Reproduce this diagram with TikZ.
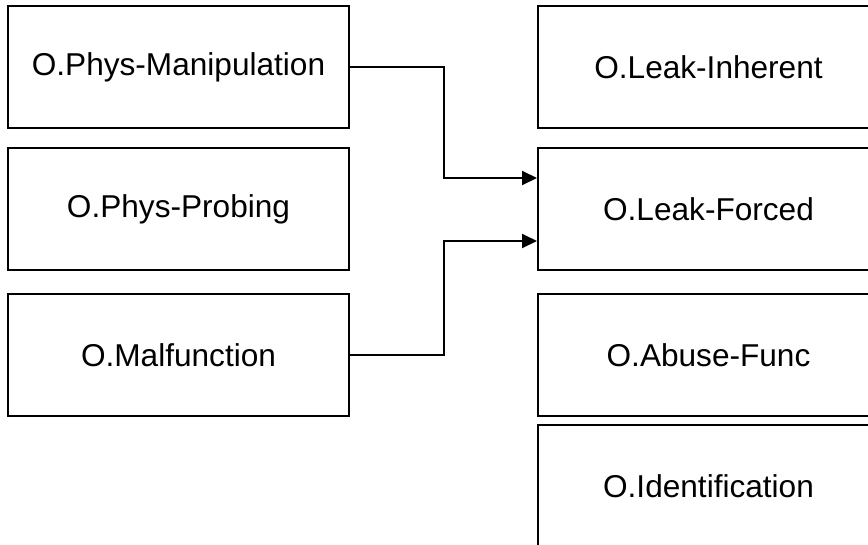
\documentclass[tikz,border=0pt]{standalone}
\usepackage{fontspec}
\setmainfont{Liberation Sans}
\usetikzlibrary{arrows.meta}
\begin{document}
\begin{tikzpicture}[x=1pt,y=-1pt,
  objbox/.style={draw, line width=2pt, rectangle, minimum width=341pt,
    minimum height=122pt, inner sep=0pt, font=\fontsize{31.6}{38}\selectfont},
  link/.style={draw, line width=2pt, -{Triangle[length=15pt,width=14pt]}}]
  \useasboundingbox (0,0) rectangle (868,544);
  \clip (0,0) rectangle (868,544);
  % left column
  \node[objbox] (pm) at (178.5,67)  {O.Phys-Manipulation};
  \node[objbox] (pp) at (178.5,209) {O.Phys-Probing};
  \node[objbox] (mf) at (178.5,355) {O.Malfunction};
  % right column
  \node[objbox] (li) at (708.5,67)  {O.Leak-Inherent};
  \node[objbox] (lf) at (708.5,209) {O.Leak-Forced};
  \node[objbox] (af) at (708.5,355) {O.Abuse-Func};
  \node[objbox] (id) at (708.5,486) {O.Identification};
  % connector entry points and the shared bend column
  \coordinate (inA) at ([yshift=31pt]lf.west);
  \coordinate (inB) at ([yshift=-32pt]lf.west);
  \coordinate (bend) at (444,0);
  \draw[link] (pm.east) -| (bend |- inA) -- (inA);
  \draw[link] (mf.east) -| (bend |- inB) -- (inB);
\end{tikzpicture}
\end{document}
